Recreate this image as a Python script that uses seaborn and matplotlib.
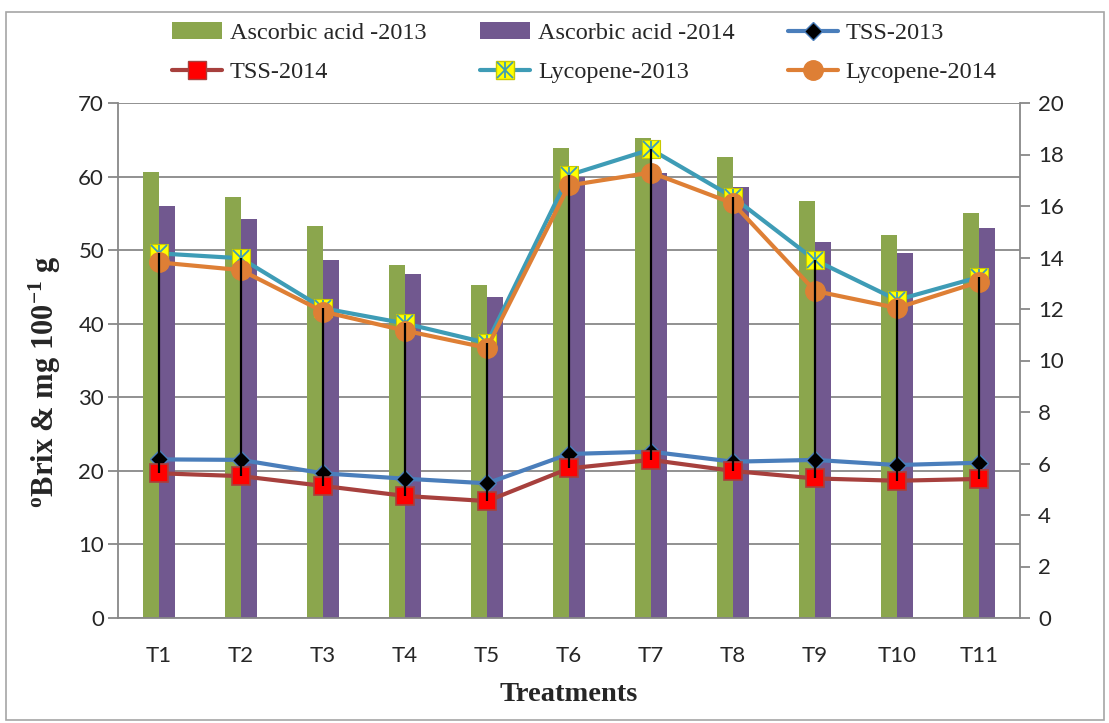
import numpy as np
import pandas as pd
import matplotlib
matplotlib.use('Agg')
import matplotlib.pyplot as plt
import seaborn as sns
from matplotlib.lines import Line2D
from matplotlib.patches import Patch, Rectangle

sns.set_style('white')
plt.rcParams['font.family'] = ['Lato', 'DejaVu Sans']
plt.rcParams['mathtext.fontset'] = 'custom'
plt.rcParams['mathtext.rm'] = 'Liberation Serif'
plt.rcParams['mathtext.bf'] = 'Liberation Serif:bold'

treatments = ['T1', 'T2', 'T3', 'T4', 'T5', 'T6', 'T7', 'T8', 'T9', 'T10', 'T11']
ascorbic_2013 = [60.6, 57.2, 53.3, 48.0, 45.2, 63.9, 65.2, 62.6, 56.7, 52.0, 55.0]
ascorbic_2014 = [56.0, 54.3, 48.7, 46.8, 43.6, 60.0, 60.5, 58.6, 51.1, 49.6, 53.0]
tss_2013 = [6.16, 6.14, 5.62, 5.41, 5.23, 6.37, 6.46, 6.07, 6.14, 5.94, 6.03]
tss_2014 = [5.62, 5.51, 5.13, 4.74, 4.54, 5.81, 6.14, 5.71, 5.42, 5.33, 5.40]
lyco_2013 = [14.16, 13.97, 12.03, 11.44, 10.68, 17.2, 18.2, 16.34, 13.9, 12.35, 13.24]
lyco_2014 = [13.81, 13.51, 11.9, 11.16, 10.49, 16.8, 17.3, 16.1, 12.7, 12.04, 13.05]

GREEN = '#8BA64D'
PURPLE = '#71588F'
BLUE = '#4A7EBB'
DARKRED = '#A7403D'
TEAL = '#3E9CB6'
ORANGE = '#DE7F35'
GRID = '#888888'
SERIF = 'Liberation Serif'

df = pd.DataFrame({
    'Treatment': treatments * 2,
    'Ascorbic': ascorbic_2013 + ascorbic_2014,
    'Year': ['2013'] * len(treatments) + ['2014'] * len(treatments),
})

fig = plt.figure(figsize=(11.09, 7.23), dpi=100)
fig.patches.append(Rectangle((6 / 1109, 3 / 723), 1098 / 1109, 708 / 723,
                             transform=fig.transFigure, fill=False,
                             edgecolor='#A6A6A6', lw=1.2))

ax = fig.add_axes([118 / 1109, 1 - 618 / 723, 902 / 1109, 515 / 723])
sns.barplot(data=df, x='Treatment', y='Ascorbic', hue='Year',
            palette=[GREEN, PURPLE], width=0.4, saturation=1,
            linewidth=0, legend=False, ax=ax)
ax.set_ylim(0, 70)
ax.set_yticks(range(0, 71, 10))
ax.set_xlim(-0.5, len(treatments) - 0.5)
ax.yaxis.grid(True, color=GRID, lw=1.3)
ax.set_axisbelow(True)
ax.set_xlabel('Treatments', fontsize=20.5, fontweight='bold', family=SERIF, labelpad=12)
ax.set_ylabel('')
for s in ['left', 'right', 'bottom']:
    ax.spines[s].set_color(GRID)
    ax.spines[s].set_linewidth(1.3)
ax.spines['top'].set_visible(False)
ax.tick_params(axis='y', which='both', direction='out', length=7, width=1.3,
               color=GRID, labelsize=16, pad=3, left=True)
ax.tick_params(axis='x', length=0, labelsize=16, pad=20)

ax2 = ax.twinx()
x = np.arange(len(treatments))
ax2.plot(x, tss_2013, color=BLUE, lw=3, marker='D', ms=9, mfc='black',
         mec=BLUE, mew=1, zorder=3)
ax2.plot(x, tss_2014, color=DARKRED, lw=3, marker='s', ms=13, mfc='#FF0000',
         mec=DARKRED, mew=1.2, zorder=3)
ax2.plot(x, lyco_2013, color=TEAL, lw=3, marker='s', ms=13, mfc='#FFFF00',
         mec='#C8C800', mew=0.8, zorder=4)
ax2.plot(x, lyco_2013, ls='none', marker='x', ms=11, mec=TEAL, mew=1.3, zorder=4)
ax2.plot(x, lyco_2013, ls='none', marker='|', ms=11, mec=TEAL, mew=1.3, zorder=4)
ax2.plot(x, lyco_2014, color=ORANGE, lw=3, marker='o', ms=14, mfc=ORANGE,
         mec=ORANGE, zorder=5)

# high-low lines between the line series
all_lines = np.array([tss_2013, tss_2014, lyco_2013, lyco_2014])
ax2.vlines(x, all_lines.min(axis=0), all_lines.max(axis=0), color='black',
           lw=1.6, zorder=6)

ax2.set_ylim(0, 20)
ax2.set_yticks(range(0, 21, 2))
for s in ['left', 'right', 'bottom', 'top']:
    ax2.spines[s].set_visible(False)
ax2.tick_params(axis='y', direction='out', length=7, width=1.3, color=GRID,
                labelsize=16, pad=6, right=True)

fig.text(45 / 1109, 1 - 382 / 723,
         r'$\mathbf{^{o}}$Brix & mg 100$\mathbf{^{-1}}$ g',
         rotation=90, ha='center', va='center', fontsize=22,
         fontweight='bold', family=SERIF)

# legend
h_a13 = Patch(facecolor=GREEN, edgecolor='none')
h_a14 = Patch(facecolor=PURPLE, edgecolor='none')
h_t13 = Line2D([], [], color=BLUE, lw=3, marker='D', ms=9, mfc='black', mec=BLUE)
h_t14 = Line2D([], [], color=DARKRED, lw=3, marker='s', ms=13, mfc='#FF0000', mec=DARKRED)
h_l13 = (Line2D([], [], color=TEAL, lw=3, marker='s', ms=13, mfc='#FFFF00', mec='#C8C800'),
         Line2D([], [], ls='none', marker='x', ms=11, mec=TEAL, mew=1.3),
         Line2D([], [], ls='none', marker='|', ms=11, mec=TEAL, mew=1.3))
h_l14 = Line2D([], [], color=ORANGE, lw=3, marker='o', ms=14, mfc=ORANGE, mec=ORANGE)

handles = [h_a13, h_t14, h_a14, h_l13, h_t13, h_l14]
labels = ['Ascorbic acid -2013', 'TSS-2014', 'Ascorbic acid -2014',
          'Lycopene-2013', 'TSS-2013', 'Lycopene-2014']
fig.legend(handles, labels, ncol=3, loc='upper left',
           bbox_to_anchor=(172 / 1109, 1 - 22 / 723),
           frameon=False, borderpad=0, borderaxespad=0,
           handlelength=2.05, handletextpad=0.33, columnspacing=2.2,
           labelspacing=0.7, prop={'family': SERIF, 'size': 17.5})

fig.savefig('out.png', dpi=100)
